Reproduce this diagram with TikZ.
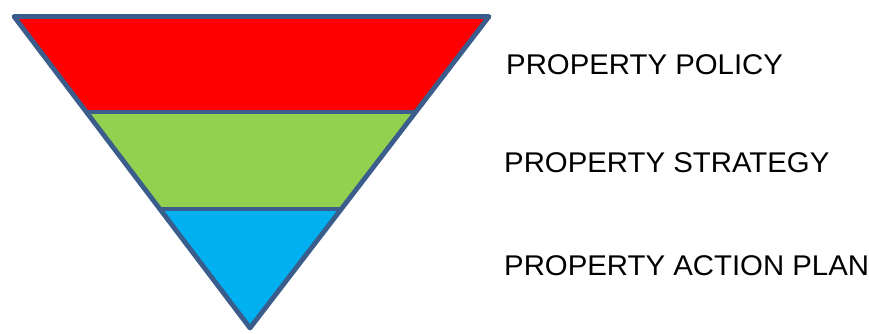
\documentclass[tikz,border=0pt]{standalone}
\usepackage{fontspec}
\setmainfont{Liberation Sans}
\definecolor{edge}{HTML}{3A5D8C}
\definecolor{bandred}{HTML}{FF0000}
\definecolor{bandgreen}{HTML}{92D050}
\definecolor{bandblue}{HTML}{00B0F0}
\tikzset{
  lbl/.style={anchor=west, inner sep=0pt, font=\fontsize{28.5}{34}\selectfont, text=black, xscale=1.03},
  outline/.style={draw=edge, line width=4.8pt, line join=round}
}
\begin{document}
\begin{tikzpicture}[x=1pt,y=-1pt]
\useasboundingbox (0,0) rectangle (869,333);
\coordinate (tl) at (14,16.5);
\coordinate (tr) at (489,16.5);
\coordinate (ap) at (250,328);
\begin{scope}
  \clip (tl) -- (tr) -- (ap) -- cycle;
  \fill[bandred] (0,0) rectangle (500,112);
  \fill[bandgreen] (0,112) rectangle (500,208.5);
  \fill[bandblue] (0,208.5) rectangle (500,333);
  \draw[draw=edge, line width=4pt] (0,112) -- (500,112);
  \draw[draw=edge, line width=4pt] (0,208.5) -- (500,208.5);
\end{scope}
\draw[outline] (tl) -- (tr) -- (ap) -- cycle;
\node[lbl] (policy) at (506,65) {PROPERTY POLICY};
\node[lbl] (strategy) at (504,162.5) {PROPERTY STRATEGY};
\node[lbl] (action) at (504,265.5) {PROPERTY ACTION PLAN};
\end{tikzpicture}
\end{document}
